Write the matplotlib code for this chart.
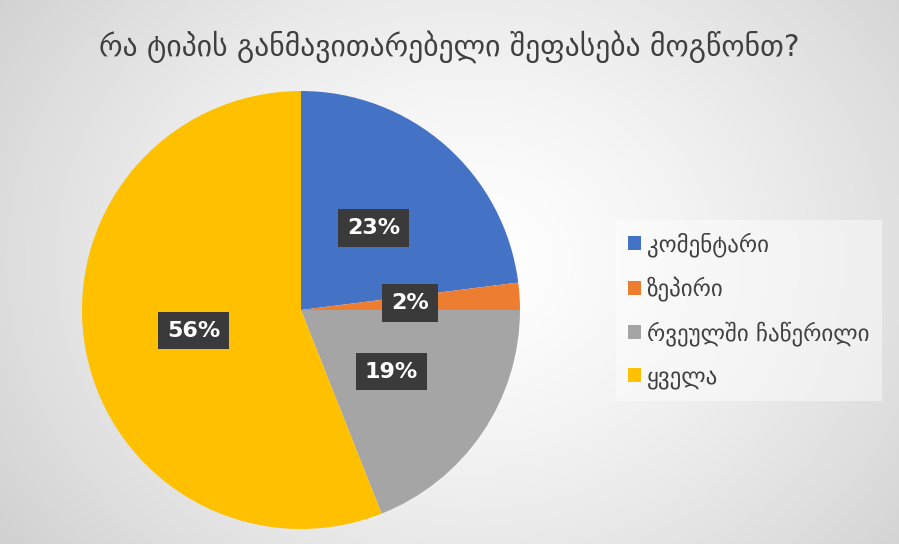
import numpy as np
import matplotlib.pyplot as plt

# ── data ──────────────────────────────────────────────────────────────────
title = 'რა ტიპის განმავითარებელი შეფასება მოგწონთ?'
categories = ['კომენტარი', 'ზეპირი', 'რვეულში ჩაწერილი', 'ყველა']
shares = [23, 2, 19, 56]
colors = ['#4472C4', '#ED7D31', '#A5A5A5', '#FFC000']

plt.rcParams['font.family'] = ['DejaVu Sans']

fig = plt.figure(figsize=(8.99, 5.44), dpi=100)

# ── background: soft radial grey gradient ──────────────────────────────────
bg = fig.add_axes([0, 0, 1, 1], zorder=0)
yy, xx = np.mgrid[0:544, 0:899]
dist = np.sqrt(((xx - 470) / 620) ** 2 + ((yy - 260) / 520) ** 2)
shade = 1.0 - 0.2 * np.clip(dist, 0, 1) ** 1.4
bg.imshow(np.dstack([shade] * 3), aspect='auto', extent=[0, 1, 0, 1])
bg.set_axis_off()

# ── pie ────────────────────────────────────────────────────────────────────
ax = fig.add_axes([0.0912, 0.0276, 0.4872, 0.8051], zorder=1)
wedges, _, autotexts = ax.pie(
    shares, colors=colors, startangle=90, counterclock=False,
    autopct='%1.0f%%', pctdistance=0.5, radius=1,
    wedgeprops=dict(linewidth=0),
    textprops=dict(color='white', fontsize=16, fontweight='bold'))
for t in autotexts:
    t.set_bbox(dict(boxstyle='square,pad=0.4', facecolor='#3a3a3a',
                    edgecolor='none', linewidth=0))
ax.set_xlim(-1, 1)
ax.set_ylim(-1, 1)
ax.set_aspect('equal')

# ── title ──────────────────────────────────────────────────────────────────
fig.text(0.5, 0.915, title, ha='center', va='center', fontsize=21.3, color='#404040')

# ── legend ─────────────────────────────────────────────────────────────────
leg = fig.legend(wedges, categories, loc='center left',
                 bbox_to_anchor=(0.672, 0.429), frameon=True, fontsize=16.5,
                 labelspacing=0.85, handlelength=0.55, handleheight=0.55,
                 handletextpad=0.25, borderpad=0.55, fancybox=False,
                 labelcolor='#404040')
leg.get_frame().set_facecolor('white')
leg.get_frame().set_alpha(0.45)
leg.get_frame().set_linewidth(0)

fig.savefig('out.png', dpi=100)
